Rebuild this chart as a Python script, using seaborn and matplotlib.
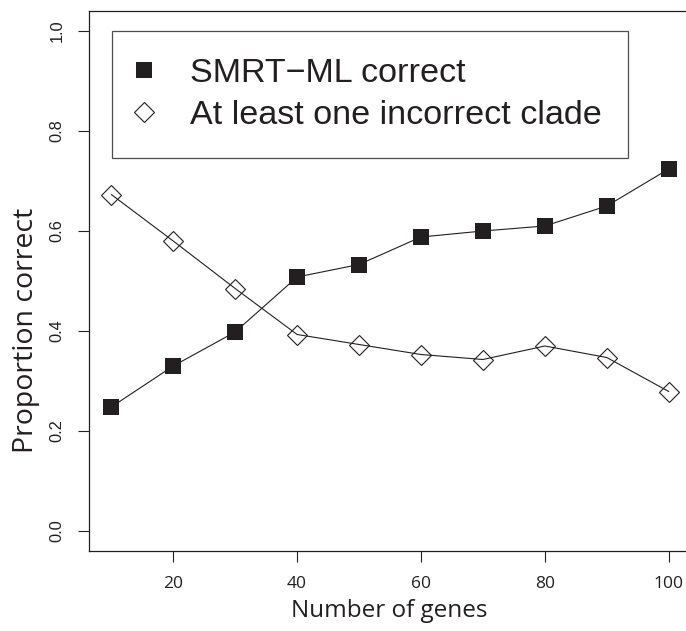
import matplotlib
matplotlib.use("Agg")
import matplotlib.pyplot as plt
import seaborn as sns
import pandas as pd
from matplotlib.lines import Line2D

genes = [10, 20, 30, 40, 50, 60, 70, 80, 90, 100]
smrt_correct = [0.248, 0.330, 0.398, 0.508, 0.533, 0.588, 0.600, 0.610, 0.650, 0.724]
incorrect_clade = [0.673, 0.580, 0.485, 0.393, 0.373, 0.353, 0.343, 0.370, 0.347, 0.279]
series_names = ["SMRT\u2212ML correct", "At least one incorrect clade"]
yticks = [0.0, 0.2, 0.4, 0.6, 0.8, 1.0]
xticks = [20, 40, 60, 80, 100]

sns.set_style("white")
plt.rcParams['font.family'] = ['Liberation Sans', 'DejaVu Sans']

ink = "#231f20"
label_font = "Open Sans"

df_a = pd.DataFrame({"genes": genes, "prop": smrt_correct})
df_b = pd.DataFrame({"genes": genes, "prop": incorrect_clade})

W, H = 686, 631
fig = plt.figure(figsize=(W / 100, H / 100), dpi=100)
ax = fig.add_axes([89 / W, (H - 551) / H, 602 / W, 540 / H])

sns.lineplot(data=df_a, x="genes", y="prop", ax=ax, color=ink, lw=0.8,
             marker="s", markersize=11.5, markerfacecolor=ink, markeredgecolor=ink,
             markeredgewidth=0, zorder=3)
sns.lineplot(data=df_b, x="genes", y="prop", ax=ax, color=ink, lw=0.8,
             marker="D", markersize=10.2, markerfacecolor="none", markeredgecolor=ink,
             markeredgewidth=0.8, zorder=3)

ax.set_xlim(6.4, 103.6)
ax.set_ylim(-0.04, 1.04)
ax.set_xticks(xticks)
ax.set_yticks(yticks)
ax.set_xticklabels([str(v) for v in xticks], fontfamily=label_font, fontsize=12.5, color=ink)
ax.set_yticklabels([f"{v:.1f}" for v in yticks], rotation=90, va="center",
                   fontfamily="Liberation Sans", fontsize=11.8, color=ink)
ax.tick_params(axis="both", direction="out", length=7.7, width=0.8, color=ink,
               bottom=True, left=True)
ax.tick_params(axis="x", pad=10)
ax.tick_params(axis="y", pad=10)

for side in ["left", "bottom", "top", "right"]:
    ax.spines[side].set_visible(True)
    ax.spines[side].set_color(ink)
    ax.spines[side].set_linewidth(0.9)

ax.set_xlabel("Number of genes", fontfamily=label_font, fontsize=17.5, color=ink)
ax.set_ylabel("Proportion correct", fontfamily=label_font, fontsize=20.5, color=ink)
ax.xaxis.set_label_coords((389 - 89) / 602, (551 - 599) / 540)
ax.yaxis.set_label_coords((40 - 89) / 602, (551 - 330) / 540)

handles = [
    Line2D([], [], linestyle="none", marker="s", markersize=11.5, markerfacecolor=ink,
           markeredgecolor=ink, markeredgewidth=0),
    Line2D([], [], linestyle="none", marker="D", markersize=10.2, markerfacecolor="none",
           markeredgecolor=ink, markeredgewidth=0.8),
]
leg = ax.legend(handles, series_names, loc="upper left",
                bbox_to_anchor=((112 - 89) / 602, (551 - 31) / 540),
                prop={"family": "Liberation Sans", "size": 24.6},
                frameon=True, fancybox=False, borderpad=0.78, labelspacing=0.34,
                handlelength=0.3, handletextpad=1.2, borderaxespad=0)
leg.get_frame().set_edgecolor(ink)
leg.get_frame().set_linewidth(0.9)
for t in leg.get_texts():
    t.set_color(ink)

fig.savefig("out.png", dpi=100)
